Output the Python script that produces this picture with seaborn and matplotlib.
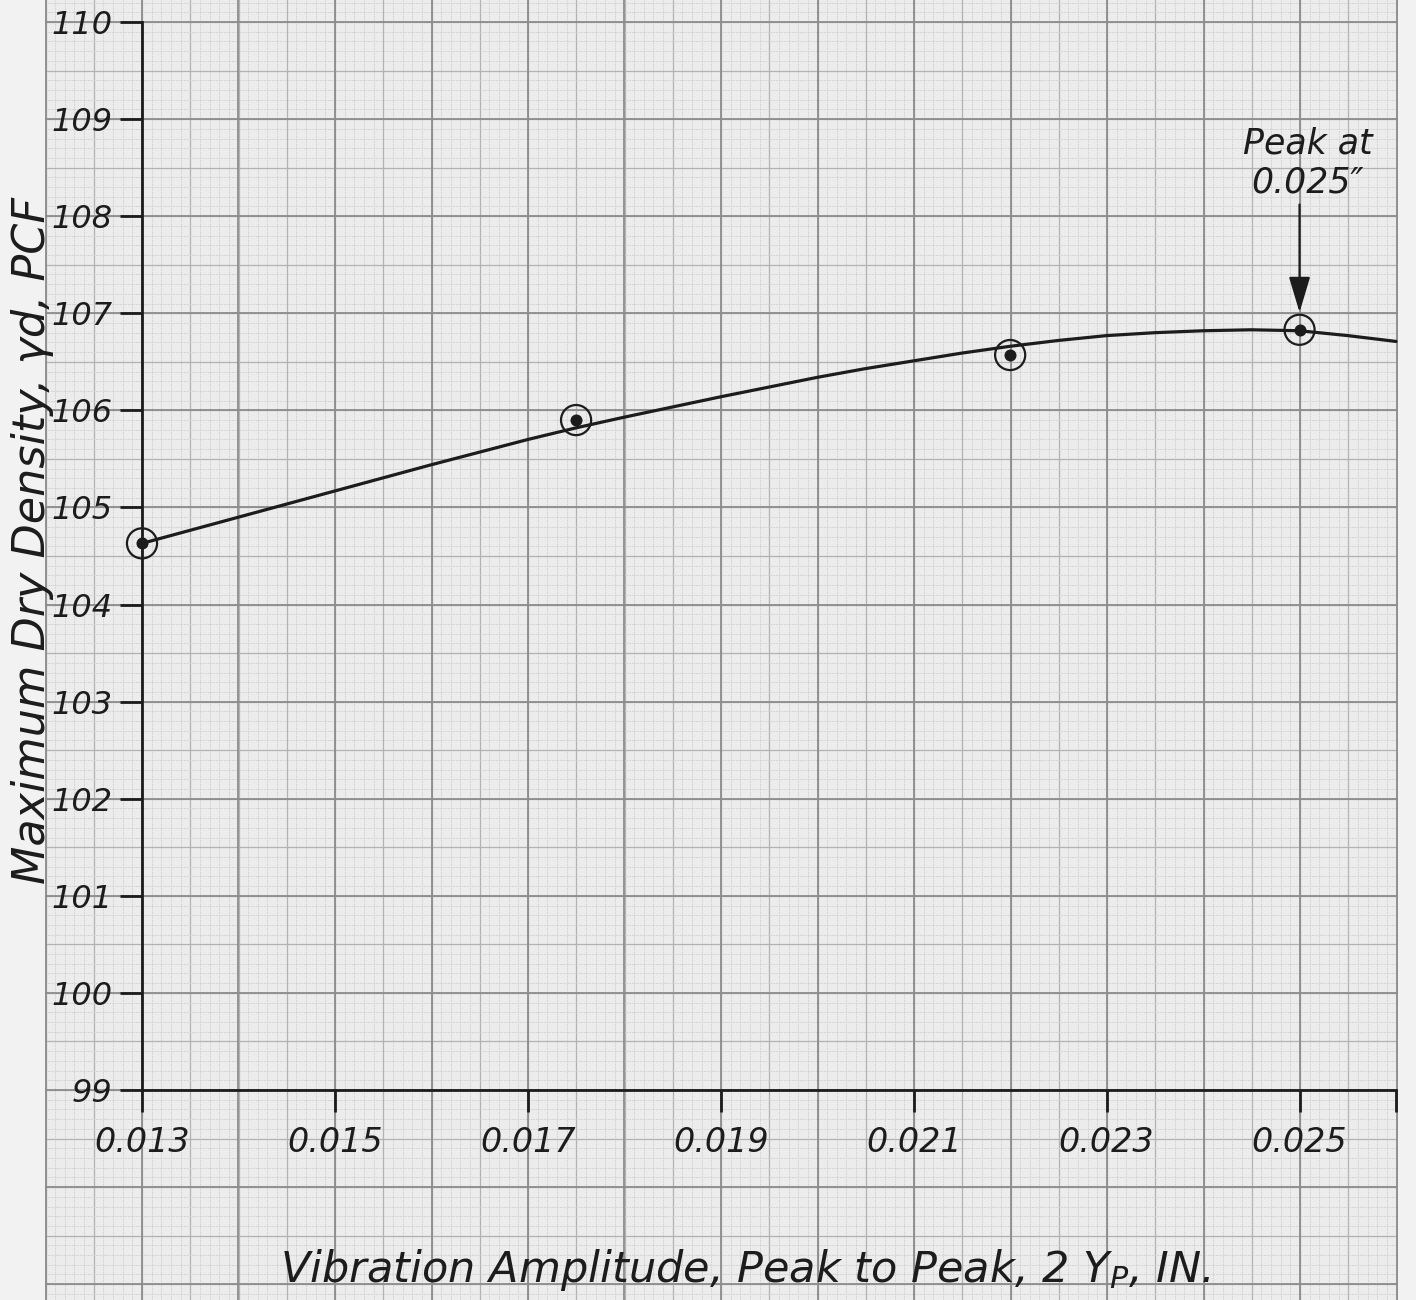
import matplotlib
matplotlib.use("Agg")
import matplotlib.pyplot as plt
from matplotlib.ticker import MultipleLocator, FixedLocator
import pandas as pd
import seaborn as sns

# ---- data ----
amp = [0.013, 0.0175, 0.022, 0.025]
density = [104.63, 105.90, 106.57, 106.83]

curve_amp = [0.013, 0.014, 0.015, 0.016, 0.017, 0.0175, 0.018, 0.019, 0.0195,
             0.020, 0.0205, 0.021, 0.0215, 0.022, 0.0225, 0.023, 0.0235,
             0.024, 0.0245, 0.025, 0.0255, 0.026]
curve_density = [104.63, 104.90, 105.17, 105.44, 105.70, 105.82, 105.93, 106.14, 106.24,
                 106.34, 106.43, 106.51, 106.59, 106.66, 106.72, 106.77, 106.80,
                 106.82, 106.83, 106.82, 106.77, 106.71]

x_ticks = [0.013, 0.015, 0.017, 0.019, 0.021, 0.023, 0.025, 0.026]
x_tick_labels = ["0.013", "0.015", "0.017", "0.019", "0.021", "0.023", "0.025", ""]
y_ticks = [99, 100, 101, 102, 103, 104, 105, 106, 107, 108, 109, 110]
y_tick_labels = ["99", "100", "101", "102", "103", "104", "105", "106",
                 "107", "108", "109", "110"]

x_label = r"Vibration Amplitude, Peak to Peak, 2 Y$_\mathregular{P}$, IN."
y_label = "Maximum Dry Density, γd, PCF"
peak_note = "Peak at\n0.025\u2033"
peak_amp = 0.025
peak_arrow_tip = 107.01
peak_arrow_start = 108.12
peak_note_y = 108.55

pts = pd.DataFrame({"amp": amp, "density": density})
curve = pd.DataFrame({"amp": curve_amp, "density": curve_density})

sns.set_theme(style="white")
plt.rcParams["font.family"] = ["DejaVu Sans"]
plt.rcParams["mathtext.fontset"] = "dejavusans"

INK = "#1c1c1c"
W, H = 1416, 1300
fig = plt.figure(figsize=(W / 100, H / 100), dpi=100)
fig.patch.set_facecolor("#f2f2f2")

# pixel geometry of the original plot
px_x0, px_x1 = 142, 1396      # 0.013 .. 0.026
px_y0, px_y1 = 1090, 22       # 99 .. 110
ppx = (1300 - 142) / 0.012    # pixels per x unit
ppy = (1090 - 22) / 11.0      # pixels per y unit

# ---- graph paper background ----
gx0, gx1 = 45, 1398
bg_pos = [gx0 / W, 0, (gx1 - gx0) / W, 1]
bg_xlim = (0.013 - (px_x0 - gx0) / ppx, 0.013 + (gx1 - px_x0) / ppx)
bg_ylim = (99 - (H - px_y0) / ppy, 110 + px_y1 / ppy)

bg = fig.add_axes(bg_pos, zorder=0)
bg.set_facecolor("#ececec")
bg.set_xlim(*bg_xlim)
bg.set_ylim(*bg_ylim)
bg.xaxis.set_major_locator(MultipleLocator(0.0005))
bg.xaxis.set_minor_locator(MultipleLocator(0.0001))
bg.yaxis.set_major_locator(MultipleLocator(0.5))
bg.yaxis.set_minor_locator(MultipleLocator(0.1))
bg.grid(which="minor", color="#cdcdcd", lw=0.6, ls=(0, (2, 1.2)))
bg.grid(which="major", color="#b2b2b2", lw=0.9)
bg.tick_params(which="both", length=0, labelbottom=False, labelleft=False)
for s in bg.spines.values():
    s.set_visible(False)

bg2 = fig.add_axes(bg_pos, zorder=0.5)
bg2.patch.set_alpha(0)
bg2.set_xlim(*bg_xlim)
bg2.set_ylim(*bg_ylim)
bg2.xaxis.set_major_locator(MultipleLocator(0.001))
bg2.yaxis.set_major_locator(MultipleLocator(1.0))
bg2.grid(which="major", color="#8c8c8c", lw=1.3)
bg2.tick_params(which="both", length=0, labelbottom=False, labelleft=False)
for s in bg2.spines.values():
    s.set_visible(False)

# ---- main axes ----
ax = fig.add_axes([px_x0 / W, (H - px_y0) / H, (px_x1 - px_x0) / W,
                   (px_y0 - px_y1) / H], zorder=2)
ax.patch.set_alpha(0)
ax.set_xlim(0.013, 0.026)
ax.set_ylim(99, 110)

sns.lineplot(data=curve, x="amp", y="density", ax=ax, color=INK, lw=2.3,
             sort=False, clip_on=False)
sns.scatterplot(data=pts, x="amp", y="density", ax=ax, s=470, marker="o",
                facecolor="none", edgecolor=INK, linewidth=1.6, clip_on=False,
                zorder=4)
sns.scatterplot(data=pts, x="amp", y="density", ax=ax, s=75, marker="o",
                color=INK, edgecolor=INK, linewidth=0, clip_on=False, zorder=5)

font = dict(family="DejaVu Sans", style="oblique", color=INK)

ax.xaxis.set_major_locator(FixedLocator(x_ticks))
ax.set_xticklabels(x_tick_labels, fontsize=24, **font)
ax.yaxis.set_major_locator(FixedLocator(y_ticks))
ax.set_yticklabels(y_tick_labels, fontsize=23, **font)
ax.tick_params(axis="both", direction="out", length=16, width=2.0, color=INK,
               bottom=True, left=True, top=False, right=False)
ax.tick_params(axis="x", pad=10)
ax.tick_params(axis="y", pad=5)

for side in ["top", "right"]:
    ax.spines[side].set_visible(False)
for side in ["left", "bottom"]:
    ax.spines[side].set_color(INK)
    ax.spines[side].set_linewidth(2.0)

ax.set_xlabel(x_label, fontsize=31, **font)
ax.set_ylabel(y_label, fontsize=32, **font)
ax.xaxis.set_label_coords((745 - px_x0) / (px_x1 - px_x0),
                          (px_y0 - 1270) / (px_y0 - px_y1))
ax.xaxis.label.set_va("center")
ax.yaxis.set_label_coords((33 - px_x0) / (px_x1 - px_x0),
                          (px_y0 - 540) / (px_y0 - px_y1))
ax.yaxis.label.set_va("center")

ax.text(peak_amp + 8 / ppx, peak_note_y, peak_note, ha="center", va="center",
        multialignment="center", fontsize=25, linespacing=1.2, **font)
ax.annotate("", xy=(peak_amp, peak_arrow_tip), xytext=(peak_amp, peak_arrow_start),
            annotation_clip=False,
            arrowprops=dict(arrowstyle="-|>,head_length=1.0,head_width=0.3",
                            mutation_scale=22, color=INK, lw=1.6,
                            shrinkA=0, shrinkB=0))

fig.savefig("out.png", dpi=100, facecolor=fig.get_facecolor())
